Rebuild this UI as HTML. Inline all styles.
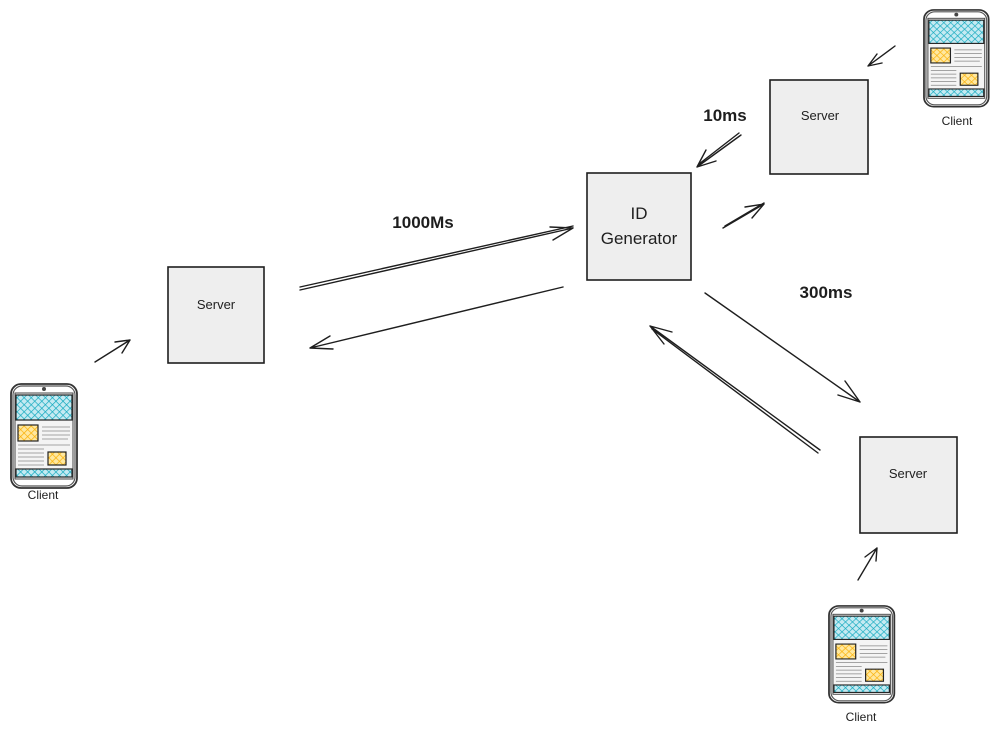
<!DOCTYPE html>
<html><head><meta charset="utf-8"><style>
html,body{margin:0;padding:0;background:#fff;}
svg{display:block}
text{font-family:"Liberation Sans",sans-serif;fill:#1e1e1e}
</style></head><body>
<svg width="1000" height="735" viewBox="0 0 1000 735" xmlns="http://www.w3.org/2000/svg">
<defs>
<pattern id="hb" width="5" height="5" patternUnits="userSpaceOnUse" patternTransform="rotate(45)">
<rect width="5" height="5" fill="#c5eaf2"/><line x1="0" y1="0" x2="0" y2="5" stroke="#15aabf" stroke-width="1.4"/><line x1="0" y1="0" x2="5" y2="0" stroke="#15aabf" stroke-width="1.4"/></pattern>
<pattern id="hy" width="5" height="5" patternUnits="userSpaceOnUse" patternTransform="rotate(45)">
<rect width="5" height="5" fill="#ffe8a0"/><line x1="0" y1="0" x2="0" y2="5" stroke="#fab005" stroke-width="1.4"/><line x1="0" y1="0" x2="5" y2="0" stroke="#fab005" stroke-width="1.4"/></pattern>
<g id="phone">
<rect x="1" y="1" width="66" height="104" rx="10" fill="#fff" stroke="#333" stroke-width="1.8"/>
<rect x="3" y="3" width="62" height="100" rx="9" fill="none" stroke="#555" stroke-width="1.2"/>
<rect x="5" y="10" width="58" height="86" fill="#f4f4f4" stroke="#444" stroke-width="1"/>
<circle cx="34" cy="6" r="2" fill="#444"/>
<rect x="6" y="12" width="56" height="25" fill="url(#hb)" stroke="#222" stroke-width="1.2"/>
<rect x="8" y="42" width="20" height="16" fill="url(#hy)" stroke="#222" stroke-width="1.2"/>
<rect x="38" y="69" width="18" height="13" fill="url(#hy)" stroke="#222" stroke-width="1.2"/>
<rect x="6" y="86" width="56" height="8" fill="url(#hb)" stroke="#222" stroke-width="1.2"/>
<g stroke="#888" stroke-width="0.8">
<line x1="32" y1="44" x2="60" y2="44"/><line x1="32" y1="48" x2="60" y2="48"/><line x1="32" y1="52" x2="60" y2="52"/><line x1="32" y1="56" x2="58" y2="56"/><line x1="8" y1="62" x2="60" y2="62"/><line x1="8" y1="66" x2="34" y2="66"/><line x1="8" y1="70" x2="34" y2="70"/><line x1="8" y1="74" x2="34" y2="74"/><line x1="8" y1="78" x2="34" y2="78"/><line x1="8" y1="82" x2="34" y2="82"/></g>
</g>
</defs>

<g fill="#eeeeee" stroke="#1e1e1e" stroke-width="1.6">
<rect x="168" y="267" width="96" height="96"/>
<rect x="587" y="173" width="104" height="107"/>
<rect x="770" y="80" width="98" height="94"/>
<rect x="860" y="437" width="97" height="96"/>
</g>
<text x="216" y="309" font-size="13" text-anchor="middle">Server</text>
<text x="820" y="120" font-size="13" text-anchor="middle">Server</text>
<text x="908" y="478" font-size="13" text-anchor="middle">Server</text>
<text x="639" y="219" font-size="17" text-anchor="middle">ID</text>
<text x="639" y="244" font-size="17" text-anchor="middle">Generator</text>
<text x="423" y="228" font-size="17" font-weight="bold" text-anchor="middle">1000Ms</text>
<text x="725" y="121" font-size="17" font-weight="bold" text-anchor="middle">10ms</text>
<text x="826" y="298" font-size="17" font-weight="bold" text-anchor="middle">300ms</text>

<use href="#phone" x="10" y="383"/>
<use href="#phone" transform="translate(923,9) scale(0.98,0.93)"/>
<use href="#phone" transform="translate(828,605) scale(0.99,0.93)"/>
<text x="43" y="499" font-size="12" text-anchor="middle">Client</text>
<text x="957" y="125" font-size="12" text-anchor="middle">Client</text>
<text x="861" y="721" font-size="12" text-anchor="middle">Client</text>

<g stroke="#1e1e1e" stroke-width="1.4" fill="none" stroke-linecap="round">
<path d="M95 362 L130 340 M130 340 L115 342 M130 340 L122 353"/>
<path d="M300 290 L573 228 M300 287 L573 226 M573 228 L550 227 M573 228 L553 240"/>
<path d="M563 287 L310 348 M310 348 L333 349 M310 348 L330 336"/>
<path d="M741 135 L697 167 M739 133 L699 164 M697 167 L706 150 M697 167 L716 161"/>
<path d="M723 228 L764 204 M725 226 L764 203 M764 204 L745 207 M764 204 L752 218"/>
<path d="M895 46 L868 66 M868 66 L877 54 M868 66 L882 63"/>
<path d="M705 293 L860 402 M860 402 L845 381 M860 402 L838 395"/>
<path d="M820 450 L650 326 M818 453 L652 329 M650 326 L664 344 M650 326 L672 332"/>
<path d="M858 580 L877 548 M877 548 L865 557 M877 548 L876 561"/>
</g>
</svg>
</body></html>
